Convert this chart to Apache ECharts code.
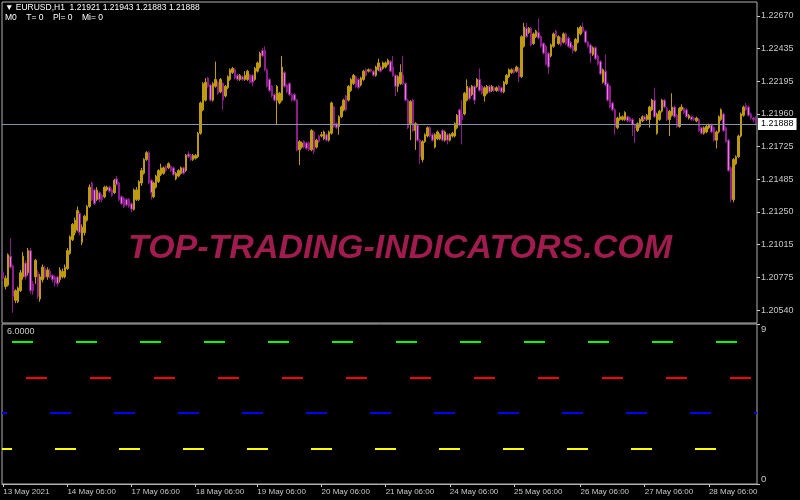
<!DOCTYPE html>
<html>
<head>
<meta charset="utf-8">
<script src="https://cdn.jsdelivr.net/npm/echarts@6/dist/echarts.min.js"></script>
<style>
  html, body { margin: 0; background: #000; }
  #chart { width: 800px; height: 500px; }
</style>
</head>
<body>
<div id="chart"></div>
<script>
  // EURUSD H1, one row per bar: [open, close, low, high]
  const candles = [
    [1.2081,1.2077,1.2075,1.2082],[1.2071,1.2077,1.2069,1.2079],[1.2072,1.2094,1.2071,1.2095],[1.2093,1.2085,1.2084,1.2106],
    [1.2086,1.2064,1.2052,1.2087],[1.2061,1.2068,1.2059,1.2069],[1.2060,1.2070,1.2059,1.2071],[1.2068,1.2081,1.2067,1.2083],
    [1.2078,1.2093,1.2076,1.2096],[1.2088,1.2078,1.2076,1.2090],[1.2081,1.2097,1.2079,1.2099],[1.2097,1.2068,1.2066,1.2099],
    [1.2073,1.2068,1.2065,1.2075],[1.2078,1.2090,1.2073,1.2091],[1.2081,1.2064,1.2062,1.2083],[1.2062,1.2078,1.2060,1.2080],
    [1.2076,1.2085,1.2074,1.2087],[1.2084,1.2078,1.2077,1.2086],[1.2078,1.2083,1.2076,1.2085],[1.2082,1.2078,1.2077,1.2084],
    [1.2079,1.2076,1.2074,1.2080],[1.2078,1.2074,1.2071,1.2079],[1.2078,1.2073,1.2071,1.2079],[1.2076,1.2083,1.2074,1.2085],
    [1.2078,1.2082,1.2077,1.2084],[1.2078,1.2085,1.2077,1.2087],[1.2084,1.2097,1.2083,1.2099],[1.2095,1.2107,1.2094,1.2108],
    [1.2105,1.2116,1.2104,1.2117],[1.2110,1.2119,1.2108,1.2121],[1.2112,1.2126,1.2111,1.2129],[1.2124,1.2110,1.2108,1.2125],
    [1.2103,1.2114,1.2101,1.2116],[1.2110,1.2122,1.2108,1.2123],[1.2119,1.2129,1.2118,1.2130],[1.2129,1.2143,1.2128,1.2145],
    [1.2146,1.2134,1.2133,1.2147],[1.2141,1.2131,1.2130,1.2142],[1.2134,1.2141,1.2133,1.2143],[1.2139,1.2134,1.2132,1.2140],
    [1.2137,1.2134,1.2132,1.2138],[1.2136,1.2143,1.2135,1.2144],[1.2141,1.2143,1.2140,1.2144],[1.2143,1.2140,1.2139,1.2144],
    [1.2141,1.2137,1.2136,1.2142],[1.2139,1.2148,1.2138,1.2149],[1.2149,1.2145,1.2144,1.2151],[1.2146,1.2134,1.2133,1.2147],
    [1.2136,1.2131,1.2130,1.2137],[1.2135,1.2129,1.2128,1.2136],[1.2134,1.2130,1.2129,1.2135],[1.2134,1.2129,1.2128,1.2135],
    [1.2131,1.2127,1.2125,1.2132],[1.2127,1.2141,1.2126,1.2142],[1.2134,1.2141,1.2133,1.2143],[1.2134,1.2147,1.2133,1.2148],
    [1.2146,1.2155,1.2144,1.2157],[1.2153,1.2163,1.2152,1.2164],[1.2163,1.2168,1.2162,1.2169],[1.2168,1.2146,1.2145,1.2169],
    [1.2148,1.2139,1.2134,1.2149],[1.2136,1.2146,1.2135,1.2147],[1.2143,1.2151,1.2142,1.2152],[1.2147,1.2155,1.2146,1.2156],
    [1.2152,1.2157,1.2151,1.2160],[1.2153,1.2157,1.2152,1.2158],[1.2158,1.2155,1.2154,1.2159],[1.2157,1.2160,1.2156,1.2161],
    [1.2158,1.2155,1.2154,1.2159],[1.2157,1.2152,1.2151,1.2158],[1.2149,1.2153,1.2148,1.2154],[1.2151,1.2155,1.2150,1.2156],
    [1.2153,1.2157,1.2152,1.2158],[1.2157,1.2153,1.2152,1.2158],[1.2155,1.2166,1.2154,1.2167],[1.2167,1.2165,1.2164,1.2169],
    [1.2166,1.2163,1.2162,1.2167],[1.2163,1.2166,1.2162,1.2167],[1.2164,1.2166,1.2163,1.2167],[1.2165,1.2182,1.2164,1.2183],
    [1.2182,1.2204,1.2181,1.2205],[1.2199,1.2218,1.2198,1.2219],[1.2206,1.2219,1.2205,1.2222],[1.2222,1.2216,1.2215,1.2223],
    [1.2217,1.2206,1.2205,1.2218],[1.2206,1.2218,1.2205,1.2219],[1.2216,1.2221,1.2215,1.2234],[1.2219,1.2211,1.2210,1.2220],
    [1.2212,1.2221,1.2211,1.2222],[1.2218,1.2206,1.2199,1.2219],[1.2209,1.2216,1.2208,1.2217],[1.2215,1.2223,1.2214,1.2224],
    [1.2221,1.2228,1.2220,1.2229],[1.2226,1.2229,1.2225,1.2230],[1.2228,1.2222,1.2221,1.2229],[1.2224,1.2221,1.2220,1.2225],
    [1.2221,1.2224,1.2220,1.2225],[1.2223,1.2221,1.2220,1.2224],[1.2221,1.2224,1.2220,1.2227],[1.2221,1.2227,1.2220,1.2228],
    [1.2224,1.2219,1.2218,1.2225],[1.2224,1.2219,1.2216,1.2225],[1.2221,1.2229,1.2220,1.2230],[1.2227,1.2233,1.2226,1.2234],
    [1.2230,1.2240,1.2229,1.2241],[1.2242,1.2238,1.2237,1.2244],[1.2242,1.2228,1.2227,1.2245],[1.2228,1.2216,1.2215,1.2229],
    [1.2221,1.2213,1.2212,1.2222],[1.2216,1.2209,1.2208,1.2217],[1.2210,1.2206,1.2205,1.2211],[1.2206,1.2216,1.2188,1.2217],
    [1.2204,1.2211,1.2203,1.2212],[1.2206,1.2230,1.2205,1.2238],[1.2226,1.2216,1.2215,1.2227],[1.2217,1.2212,1.2211,1.2218],
    [1.2218,1.2210,1.2209,1.2219],[1.2210,1.2206,1.2205,1.2211],[1.2210,1.2206,1.2205,1.2211],[1.2206,1.2170,1.2169,1.2207],
    [1.2170,1.2176,1.2159,1.2177],[1.2172,1.2175,1.2171,1.2176],[1.2176,1.2172,1.2171,1.2177],[1.2175,1.2171,1.2170,1.2176],
    [1.2175,1.2170,1.2169,1.2176],[1.2170,1.2184,1.2169,1.2185],[1.2183,1.2169,1.2167,1.2184],[1.2172,1.2177,1.2171,1.2178],
    [1.2180,1.2176,1.2175,1.2181],[1.2180,1.2181,1.2179,1.2183],[1.2178,1.2183,1.2177,1.2184],[1.2181,1.2177,1.2176,1.2182],
    [1.2177,1.2183,1.2176,1.2184],[1.2182,1.2204,1.2181,1.2205],[1.2201,1.2187,1.2186,1.2202],[1.2189,1.2186,1.2185,1.2190],
    [1.2187,1.2194,1.2181,1.2195],[1.2194,1.2201,1.2193,1.2202],[1.2199,1.2206,1.2198,1.2207],[1.2209,1.2199,1.2198,1.2210],
    [1.2206,1.2216,1.2205,1.2217],[1.2213,1.2221,1.2212,1.2222],[1.2218,1.2224,1.2217,1.2225],[1.2223,1.2216,1.2215,1.2224],
    [1.2221,1.2215,1.2214,1.2222],[1.2217,1.2222,1.2216,1.2223],[1.2221,1.2227,1.2220,1.2228],[1.2228,1.2224,1.2223,1.2229],
    [1.2227,1.2228,1.2226,1.2229],[1.2228,1.2227,1.2226,1.2229],[1.2227,1.2224,1.2223,1.2228],[1.2224,1.2230,1.2223,1.2231],
    [1.2228,1.2233,1.2227,1.2236],[1.2230,1.2227,1.2226,1.2231],[1.2229,1.2233,1.2228,1.2234],[1.2230,1.2233,1.2229,1.2234],
    [1.2232,1.2235,1.2231,1.2236],[1.2234,1.2227,1.2226,1.2235],[1.2230,1.2224,1.2223,1.2238],[1.2224,1.2216,1.2209,1.2225],
    [1.2216,1.2223,1.2212,1.2224],[1.2218,1.2226,1.2217,1.2232],[1.2224,1.2218,1.2217,1.2238],[1.2218,1.2206,1.2205,1.2219],
    [1.2206,1.2186,1.2185,1.2207],[1.2189,1.2205,1.2177,1.2206],[1.2206,1.2184,1.2183,1.2207],[1.2184,1.2189,1.2170,1.2190],
    [1.2188,1.2177,1.2176,1.2189],[1.2177,1.2165,1.2160,1.2178],[1.2163,1.2176,1.2161,1.2177],[1.2176,1.2181,1.2175,1.2182],
    [1.2180,1.2186,1.2179,1.2187],[1.2186,1.2180,1.2179,1.2187],[1.2181,1.2177,1.2176,1.2182],[1.2172,1.2181,1.2171,1.2182],
    [1.2178,1.2183,1.2177,1.2184],[1.2178,1.2181,1.2177,1.2182],[1.2184,1.2177,1.2176,1.2185],[1.2177,1.2183,1.2176,1.2184],
    [1.2181,1.2177,1.2174,1.2182],[1.2177,1.2181,1.2176,1.2182],[1.2180,1.2182,1.2179,1.2183],[1.2180,1.2189,1.2179,1.2190],
    [1.2186,1.2195,1.2185,1.2196],[1.2199,1.2188,1.2187,1.2200],[1.2196,1.2192,1.2174,1.2206],[1.2196,1.2211,1.2195,1.2212],
    [1.2206,1.2216,1.2205,1.2221],[1.2215,1.2207,1.2206,1.2216],[1.2210,1.2216,1.2209,1.2217],[1.2216,1.2206,1.2203,1.2217],
    [1.2216,1.2221,1.2215,1.2222],[1.2221,1.2213,1.2212,1.2229],[1.2216,1.2211,1.2210,1.2217],[1.2209,1.2215,1.2205,1.2216],
    [1.2211,1.2216,1.2210,1.2217],[1.2216,1.2212,1.2211,1.2217],[1.2213,1.2216,1.2212,1.2217],[1.2215,1.2213,1.2212,1.2216],
    [1.2213,1.2215,1.2212,1.2216],[1.2216,1.2213,1.2212,1.2217],[1.2215,1.2212,1.2211,1.2216],[1.2212,1.2219,1.2211,1.2220],
    [1.2218,1.2224,1.2217,1.2225],[1.2223,1.2228,1.2222,1.2229],[1.2226,1.2228,1.2225,1.2229],[1.2228,1.2226,1.2225,1.2229],
    [1.2227,1.2230,1.2226,1.2231],[1.2229,1.2223,1.2219,1.2230],[1.2223,1.2252,1.2222,1.2253],[1.2245,1.2259,1.2244,1.2262],
    [1.2258,1.2252,1.2251,1.2262],[1.2255,1.2258,1.2254,1.2259],[1.2258,1.2246,1.2245,1.2259],[1.2247,1.2254,1.2246,1.2255],
    [1.2252,1.2256,1.2251,1.2257],[1.2255,1.2251,1.2250,1.2265],[1.2252,1.2245,1.2244,1.2253],[1.2247,1.2240,1.2239,1.2248],
    [1.2245,1.2232,1.2231,1.2246],[1.2240,1.2230,1.2225,1.2241],[1.2238,1.2246,1.2237,1.2247],[1.2245,1.2254,1.2244,1.2255],
    [1.2256,1.2252,1.2251,1.2257],[1.2247,1.2252,1.2246,1.2253],[1.2251,1.2246,1.2245,1.2252],[1.2248,1.2254,1.2247,1.2255],
    [1.2254,1.2247,1.2246,1.2255],[1.2251,1.2245,1.2244,1.2252],[1.2248,1.2244,1.2243,1.2249],[1.2245,1.2242,1.2240,1.2246],
    [1.2242,1.2250,1.2241,1.2251],[1.2248,1.2258,1.2247,1.2259],[1.2254,1.2259,1.2253,1.2260],[1.2259,1.2256,1.2255,1.2262],
    [1.2256,1.2248,1.2247,1.2257],[1.2248,1.2245,1.2244,1.2249],[1.2246,1.2240,1.2233,1.2247],[1.2239,1.2244,1.2238,1.2245],
    [1.2244,1.2236,1.2235,1.2245],[1.2238,1.2232,1.2231,1.2239],[1.2234,1.2225,1.2224,1.2235],[1.2219,1.2228,1.2218,1.2229],
    [1.2227,1.2217,1.2216,1.2239],[1.2218,1.2206,1.2205,1.2219],[1.2216,1.2201,1.2200,1.2217],[1.2204,1.2199,1.2198,1.2205],
    [1.2199,1.2187,1.2181,1.2200],[1.2186,1.2193,1.2185,1.2194],[1.2192,1.2194,1.2191,1.2197],[1.2192,1.2194,1.2191,1.2195],
    [1.2192,1.2197,1.2191,1.2198],[1.2194,1.2191,1.2190,1.2195],[1.2193,1.2191,1.2190,1.2194],[1.2192,1.2188,1.2180,1.2193],
    [1.2188,1.2186,1.2175,1.2189],[1.2184,1.2189,1.2183,1.2190],[1.2187,1.2192,1.2186,1.2193],[1.2191,1.2194,1.2190,1.2195],
    [1.2194,1.2192,1.2191,1.2195],[1.2192,1.2195,1.2191,1.2196],[1.2192,1.2201,1.2186,1.2202],[1.2199,1.2206,1.2198,1.2207],
    [1.2206,1.2194,1.2193,1.2215],[1.2182,1.2196,1.2181,1.2197],[1.2192,1.2198,1.2191,1.2199],[1.2198,1.2206,1.2197,1.2207],
    [1.2206,1.2201,1.2200,1.2207],[1.2200,1.2192,1.2191,1.2201],[1.2192,1.2198,1.2180,1.2199],[1.2195,1.2201,1.2194,1.2211],
    [1.2201,1.2194,1.2193,1.2202],[1.2195,1.2187,1.2186,1.2196],[1.2187,1.2200,1.2186,1.2201],[1.2199,1.2201,1.2198,1.2203],
    [1.2200,1.2197,1.2196,1.2201],[1.2199,1.2194,1.2193,1.2200],[1.2193,1.2195,1.2192,1.2196],[1.2194,1.2192,1.2191,1.2195],
    [1.2193,1.2192,1.2191,1.2194],[1.2191,1.2193,1.2190,1.2194],[1.2192,1.2184,1.2183,1.2193],[1.2186,1.2182,1.2181,1.2187],
    [1.2182,1.2186,1.2181,1.2187],[1.2183,1.2187,1.2182,1.2188],[1.2186,1.2188,1.2185,1.2189],[1.2188,1.2183,1.2182,1.2189],
    [1.2186,1.2177,1.2176,1.2187],[1.2177,1.2183,1.2171,1.2184],[1.2183,1.2194,1.2182,1.2195],[1.2192,1.2199,1.2191,1.2200],
    [1.2196,1.2184,1.2183,1.2197],[1.2186,1.2176,1.2175,1.2187],[1.2177,1.2155,1.2154,1.2178],[1.2157,1.2134,1.2132,1.2158],
    [1.2134,1.2163,1.2132,1.2164],[1.2160,1.2165,1.2159,1.2166],[1.2165,1.2180,1.2164,1.2181],[1.2180,1.2196,1.2179,1.2197],
    [1.2195,1.2201,1.2194,1.2202],[1.2202,1.2199,1.2198,1.2204],[1.2201,1.2195,1.2194,1.2202],[1.2196,1.2193,1.2192,1.2197],
    [1.2193,1.2192,1.2190,1.2194],[1.21921,1.21888,1.21883,1.21943]
  ];

  const priceTicks = [1.20540, 1.20775, 1.21015, 1.21250, 1.21485, 1.21725, 1.21960, 1.22195, 1.22435, 1.22670];
  const timeTickIdx = [0, 26, 52, 78, 103, 129, 155, 181, 207, 234, 260, 286];
  const timeTickText = ['13 May 2021', '14 May 06:00', '17 May 06:00', '18 May 06:00', '19 May 06:00', '20 May 06:00',
    '21 May 06:00', '24 May 06:00', '25 May 06:00', '26 May 06:00', '27 May 06:00', '28 May 06:00'];
  const levels = [8, 6, 4, 2];
  const levelColors = ['#00ff00', '#ff0000', '#0000ff', '#ffff00'];
  const indicatorValue = 6;

  const dashOffsets = [54, 40, 16, 11];
  const axisColor = '#c8c8c8';
  const frameColor = '#b0b0b0';
  const font = '"Liberation Sans", Arial, sans-serif';

  const last = candles[candles.length - 1];
  const fmt = (v) => v.toFixed(5);
  const cats = candles.map((_, i) => String(i));
  const tickLabel = {};
  timeTickIdx.forEach((i, k) => { tickLabel[i] = timeTickText[k]; });

  const chart = echarts.init(document.getElementById('chart'), null, { renderer: 'canvas' });

  const option = {
    backgroundColor: '#000',
    animation: false,
    textStyle: { fontFamily: font },
    grid: [
      { left: 2, right: 43, top: 2, height: 321, show: true, borderColor: frameColor, borderWidth: 1, backgroundColor: 'transparent' },
      { left: 2, right: 43, top: 324, height: 160, show: true, borderColor: frameColor, borderWidth: 1, backgroundColor: 'transparent' }
    ],
    xAxis: [
      {
        gridIndex: 0, type: 'category', data: cats, boundaryGap: true,
        axisLine: { show: false }, axisTick: { show: false }, axisLabel: { show: false }, splitLine: { show: false }
      },
      {
        gridIndex: 1, type: 'category', data: cats, boundaryGap: true,
        axisLine: { show: true, lineStyle: { color: frameColor } },
        axisTick: {
          show: true, length: 3, alignWithLabel: true,
          interval: (i) => tickLabel[i] !== undefined,
          lineStyle: { color: axisColor }
        },
        axisLabel: {
          interval: (i) => tickLabel[i] !== undefined,
          formatter: (v) => tickLabel[v] || '',
          color: axisColor, fontSize: 8, align: 'left', margin: 4
        },
        splitLine: { show: false }
      }
    ],
    yAxis: [
      {
        gridIndex: 0, type: 'value', position: 'right',
        min: 1.20446, max: 1.22771,
        splitLine: { show: false },
        axisLine: { show: false },
        axisTick: { show: true, length: 3, customValues: priceTicks, lineStyle: { color: axisColor } },
        axisLabel: { customValues: priceTicks, formatter: fmt, color: axisColor, fontSize: 9, margin: 4 }
      },
      {
        gridIndex: 1, type: 'value', position: 'right',
        min: 0, max: 9, interval: 9,
        splitLine: { show: false },
        axisLine: { show: false },
        axisTick: { show: true, length: 3, lineStyle: { color: axisColor } },
        axisLabel: {
          color: axisColor, fontSize: 9.5, margin: 4,
          verticalAlignMinLabel: 'bottom', verticalAlignMaxLabel: 'top'
        }
      }
    ],
    series: [
      {
        name: 'EURUSD', type: 'candlestick',
        xAxisIndex: 0, yAxisIndex: 0,
        data: candles,
        barWidth: 2,
        itemStyle: {
          color: '#bd9a0e', borderColor: '#bd9a0e',
          color0: '#dc82dc', borderColor0: '#8c1e8c',
          borderWidth: 1
        },
        z: 3
      },
      {
        name: 'last price', type: 'line',
        xAxisIndex: 0, yAxisIndex: 0,
        data: [],
        markLine: {
          silent: true, symbol: 'none', animation: false,
          precision: 5,
          lineStyle: { color: '#8494a4', width: 1, type: 'solid' },
          label: {
            position: 'end', distance: 1, formatter: fmt(last[1]),
            color: '#000', backgroundColor: '#fff', padding: [2, 3, 1, 3],
            fontSize: 9, fontFamily: font
          },
          data: [{ yAxis: last[1] }]
        },
        z: 2
      },
      {
        name: 'levels', type: 'line',
        xAxisIndex: 1, yAxisIndex: 1,
        data: [],
        markLine: {
          silent: true, symbol: 'none', animation: false,
          label: { show: false },
          lineStyle: { width: 2, type: [21, 43] },
          data: levels.map((v, k) => ({
            yAxis: v,
            lineStyle: { color: levelColors[k], width: 2, type: [21, 43], dashOffset: dashOffsets[k] }
          }))
        }
      }
    ],
    graphic: [
      {
        type: 'text', left: 400 - 272, top: 232, z: 0,
        style: {
          text: 'TOP-TRADING-INDICATORS.COM',
          fill: '#a01c4e',
          font: 'italic bold 34px "Liberation Sans", Arial, sans-serif'
        }
      },
      {
        type: 'text', left: 5, top: 3, z: 10,
        style: {
          text: '▼ EURUSD,H1  ' + [last[0], last[3], last[2], last[1]].map(fmt).join(' '),
          fill: '#ffffff', font: '8.5px "Liberation Sans", Arial, sans-serif'
        }
      },
      {
        type: 'text', left: 5, top: 13, z: 10,
        style: {
          text: 'M0    T= 0    Pl= 0    Mi= 0',
          fill: '#ffffff', font: '8.5px "Liberation Sans", Arial, sans-serif'
        }
      },
      {
        type: 'text', left: 7, top: 327, z: 10,
        style: {
          text: indicatorValue.toFixed(4),
          fill: axisColor, font: '9px "Liberation Sans", Arial, sans-serif'
        }
      }
    ]
  };

  chart.setOption(option);
</script>
</body>
</html>
